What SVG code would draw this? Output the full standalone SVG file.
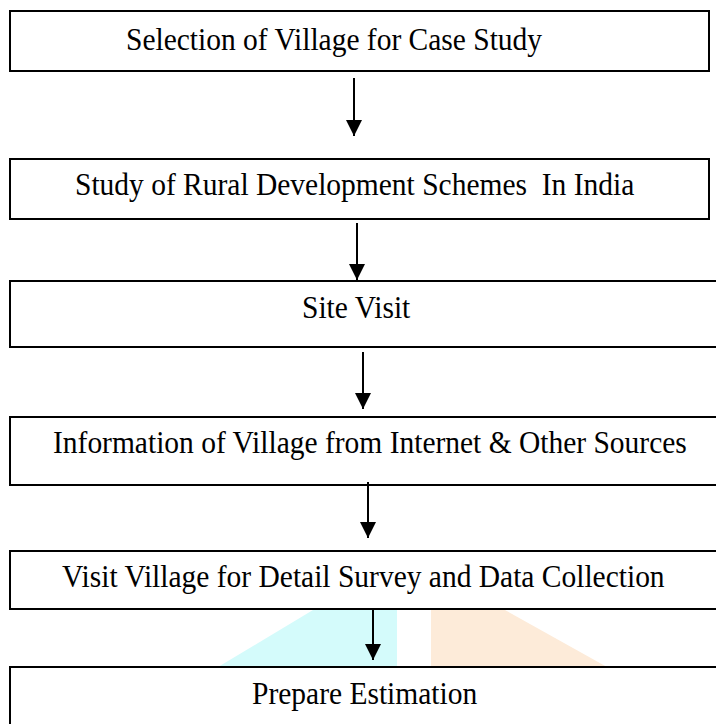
<svg xmlns="http://www.w3.org/2000/svg" width="716" height="724" viewBox="0 0 716 724">
<style>
.box{fill:#fff;stroke:#000;stroke-width:2}
.lbl{font-family:"Liberation Serif","Times New Roman",serif;font-size:29.5px;fill:#000;white-space:pre}
.conn{stroke:#000;stroke-width:2;fill:none}
</style>
<defs>
<marker id="ah" markerUnits="userSpaceOnUse" markerWidth="16" markerHeight="16" refX="16" refY="8" orient="auto">
<path d="M0,0 L16,8 L0,16 Z" fill="#000"/>
</marker>
</defs>
<rect width="716" height="724" fill="#fff"/>
<g id="watermark">
<polygon points="218,667 313,610 397,610 397,667" fill="#d4fbfb"/>
<polygon points="431,610 505,610 607,667 431,667" fill="#fdebd9"/>
</g>
<g id="n1"><rect class="box" x="10" y="11" width="699" height="60"/><text class="lbl" transform="translate(126,50) scale(1,1.07)">Selection of Village for Case Study</text></g>
<g id="n2"><rect class="box" x="10" y="159" width="699" height="60"/><text class="lbl" transform="translate(75,195) scale(1,1.07)" xml:space="preserve">Study of Rural Development Schemes  In India</text></g>
<g id="n3"><rect class="box" x="10" y="281" width="720" height="66"/><text class="lbl" transform="translate(302,318) scale(1,1.07)">Site Visit</text></g>
<g id="n4"><rect class="box" x="10" y="417" width="720" height="68"/><text class="lbl" transform="translate(53,453) scale(1,1.07)">Information of Village from Internet &amp; Other Sources</text></g>
<g id="n5"><rect class="box" x="10" y="551" width="720" height="58"/><text class="lbl" transform="translate(62,587) scale(1,1.07)">Visit Village for Detail Survey and Data Collection</text></g>
<g id="n6"><rect class="box" x="10" y="667" width="720" height="70"/><text class="lbl" transform="translate(252,704) scale(1,1.07)">Prepare Estimation</text></g>
<g id="connectors">
<line class="conn" x1="354" y1="78" x2="354" y2="136" marker-end="url(#ah)"/>
<line class="conn" x1="357" y1="223" x2="357" y2="280" marker-end="url(#ah)"/>
<line class="conn" x1="363" y1="352" x2="363" y2="409" marker-end="url(#ah)"/>
<line class="conn" x1="368" y1="482" x2="368" y2="538" marker-end="url(#ah)"/>
<line class="conn" x1="373" y1="609" x2="373" y2="660" marker-end="url(#ah)"/>
</g>
</svg>
